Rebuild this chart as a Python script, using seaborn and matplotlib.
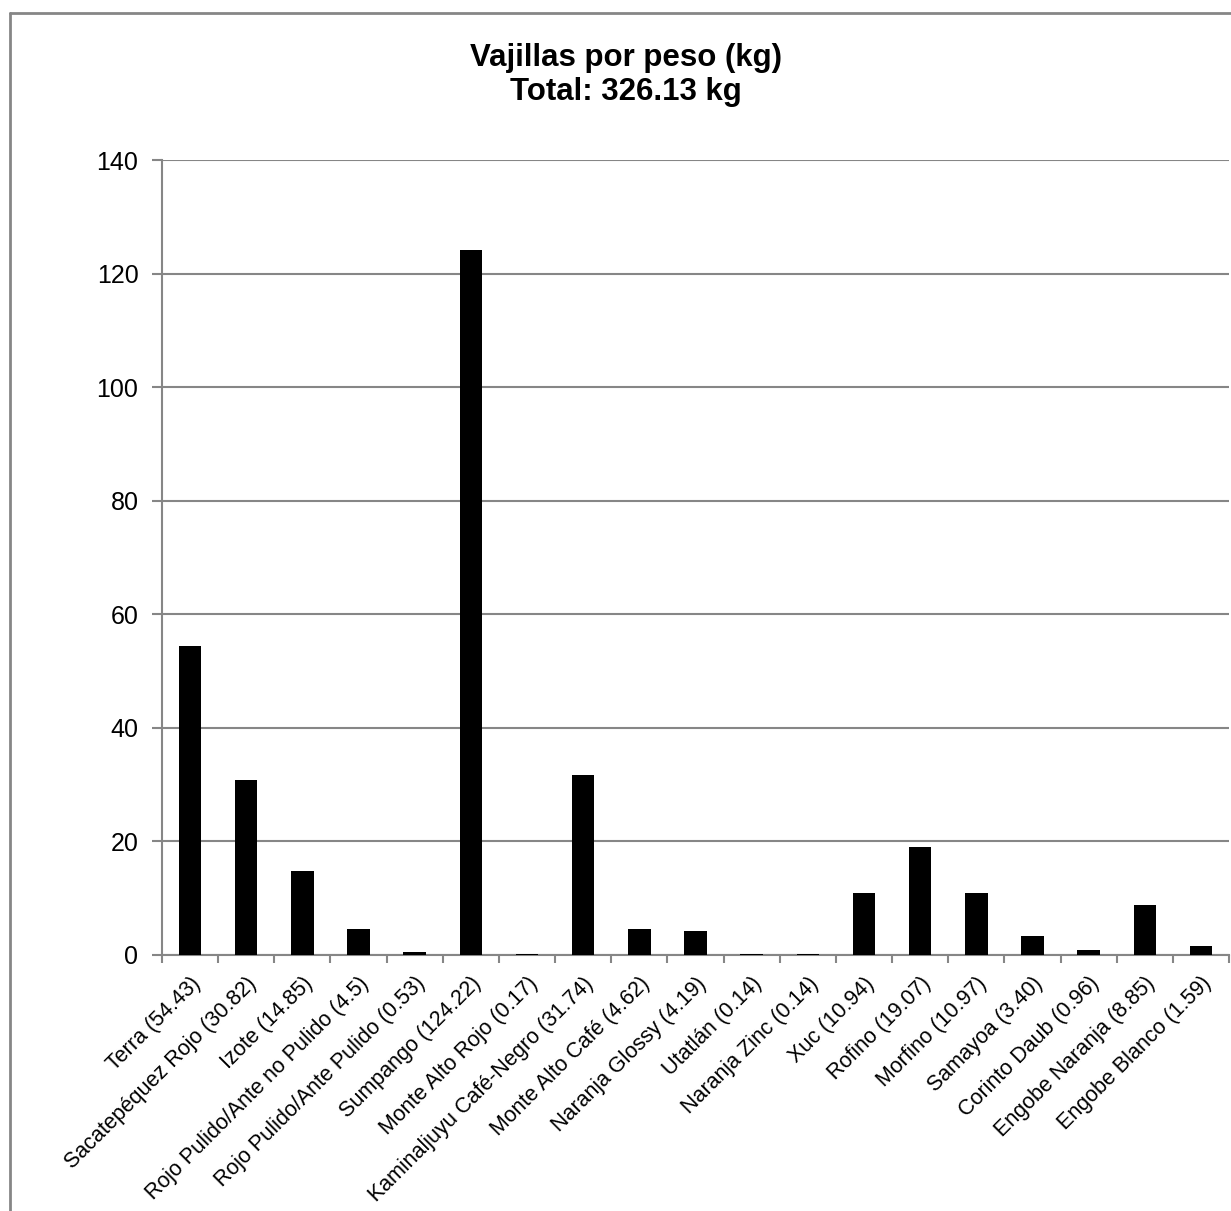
import matplotlib
matplotlib.use("Agg")
import matplotlib.pyplot as plt
from matplotlib.lines import Line2D
from matplotlib.ticker import FixedLocator, MultipleLocator
import seaborn as sns

names = ["Terra", "Sacatepéquez Rojo", "Izote", "Rojo Pulido/Ante no Pulido",
         "Rojo Pulido/Ante Pulido", "Sumpango", "Monte Alto Rojo",
         "Kaminaljuyu Café-Negro", "Monte Alto Café", "Naranja Glossy",
         "Utatlán", "Naranja Zinc", "Xuc", "Rofino", "Morfino", "Samayoa",
         "Corinto Daub", "Engobe Naranja", "Engobe Blanco"]
value_text = ["54.43", "30.82", "14.85", "4.5", "0.53", "124.22", "0.17",
              "31.74", "4.62", "4.19", "0.14", "0.14", "10.94", "19.07",
              "10.97", "3.40", "0.96", "8.85", "1.59"]
weights = [float(v) for v in value_text]
labels = [f"{n} ({v})" for n, v in zip(names, value_text)]

title = "Vajillas por peso (kg)\nTotal: 326.13 kg"
grey = "#868686"

sns.set_style("white")
plt.rcParams["font.family"] = ["Liberation Sans", "DejaVu Sans"]
plt.rcParams["text.color"] = "black"
plt.rcParams["xtick.labelcolor"] = "black"
plt.rcParams["ytick.labelcolor"] = "black"

fig = plt.figure(figsize=(12.31, 12.11), dpi=100)
ax = fig.add_axes([162 / 1231, 1 - 955 / 1211, (1229 - 162) / 1231, (955 - 160) / 1211])

sns.barplot(x=labels, y=weights, color="black", width=0.4, saturation=1,
            edgecolor="black", linewidth=0, ax=ax, zorder=3)

ax.set_ylim(0, 140)
ax.set_xlim(-0.5, len(labels) - 0.5)
ax.yaxis.set_major_locator(MultipleLocator(20))
ax.grid(axis="y", color=grey, linewidth=1.5, zorder=0)
ax.grid(axis="x", visible=False)
ax.set_axisbelow(True)

for side in ["top", "right"]:
    ax.spines[side].set_visible(False)
for side in ["left", "bottom"]:
    ax.spines[side].set_color(grey)
    ax.spines[side].set_linewidth(1.5)

ax.tick_params(axis="y", length=7, width=1.5, color=grey, labelsize=18, pad=10,
               left=True, labelcolor="black")
ax.tick_params(axis="x", which="major", length=0, labelsize=15.5, pad=13, labelcolor="black")
ax.xaxis.set_minor_locator(FixedLocator([i - 0.5 for i in range(len(labels) + 1)]))
ax.tick_params(axis="x", which="minor", length=6, width=1.5, color=grey, bottom=True)
ax.set_xticks(range(len(labels)))
ax.set_xticklabels(labels, rotation=45, ha="right", va="top", rotation_mode="anchor")

fig.text(626 / 1231, 1 - 75 / 1211, title, ha="center", va="center",
         fontsize=22.5, fontweight="bold", linespacing=1.2, color="black")

# chart frame (cropped on the right and bottom)
fig.add_artist(Line2D([9.5 / 1231, 9.5 / 1231], [0, 1 - 12.5 / 1211],
                      transform=fig.transFigure, color=grey, linewidth=2))
fig.add_artist(Line2D([9.5 / 1231, 1], [1 - 12.5 / 1211, 1 - 12.5 / 1211],
                      transform=fig.transFigure, color=grey, linewidth=2))

fig.savefig("out.png", dpi=100, facecolor="white")
